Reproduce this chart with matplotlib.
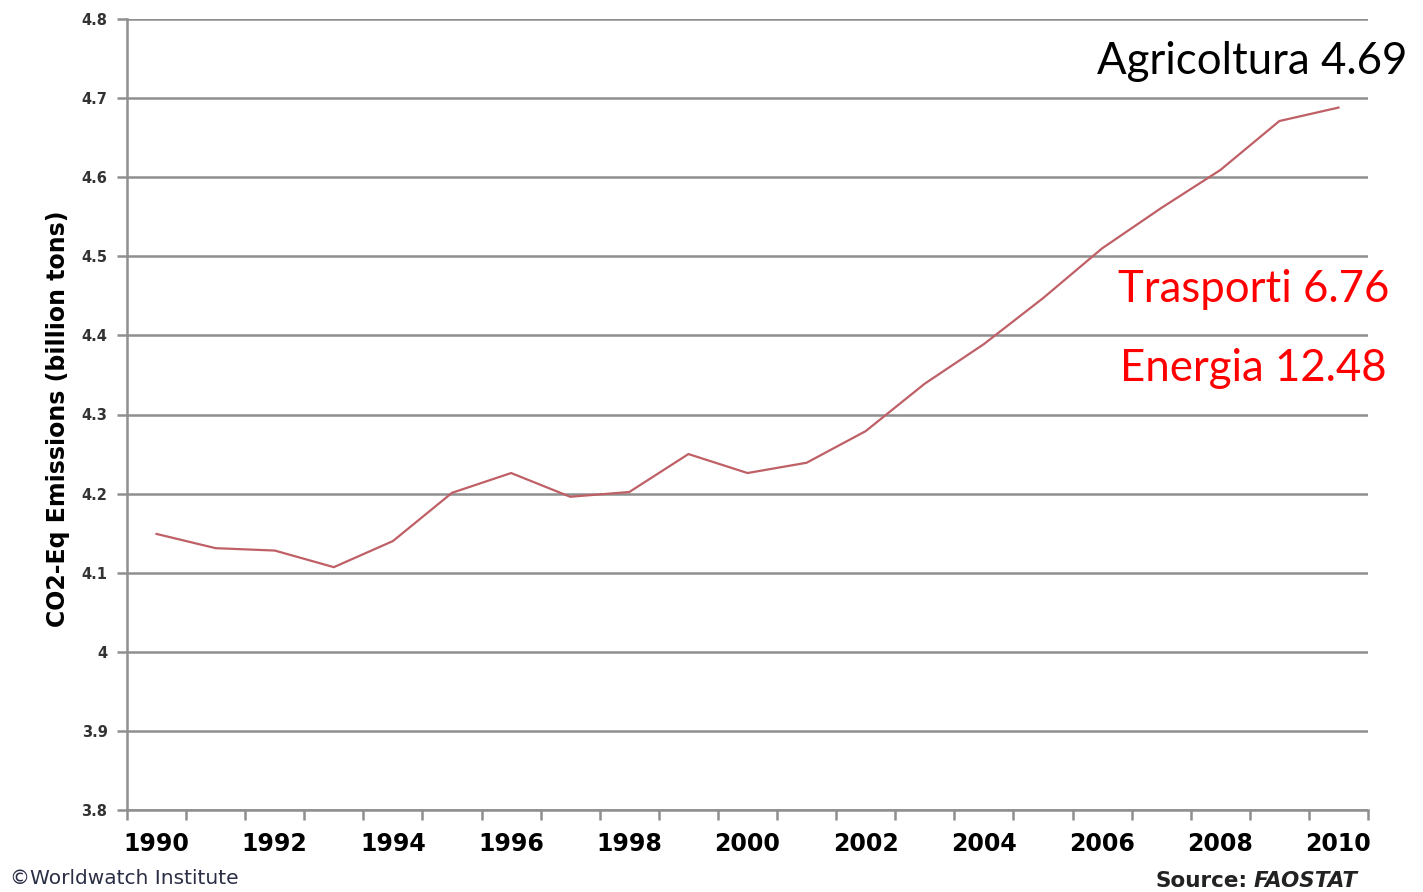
import matplotlib
matplotlib.use("Agg")
import matplotlib.pyplot as plt
import numpy as np

years = list(range(1990, 2011))
emissions = [4.149, 4.131, 4.128, 4.107, 4.140, 4.201, 4.226, 4.196, 4.202, 4.250,
             4.226, 4.239, 4.279, 4.339, 4.389, 4.447, 4.510, 4.561, 4.609, 4.671, 4.688]
year_labels = [str(y) if (y % 2 == 0) else "" for y in years]
yticks = [3.8, 3.9, 4.0, 4.1, 4.2, 4.3, 4.4, 4.5, 4.6, 4.7, 4.8]
ytick_labels = ["3.8", "3.9", "4", "4.1", "4.2", "4.3", "4.4", "4.5", "4.6", "4.7", "4.8"]
notes = [("Agricoltura 4.69", "black"), ("Trasporti 6.76", "#ff0000"), ("Energia 12.48", "#ff0000")]

fig = plt.figure(figsize=(14.23, 8.92), dpi=100)
ax = fig.add_axes([127/1423, 1-810/892, (1368-127)/1423, (810-19)/892])

x = np.arange(len(years))
ax.plot(x, emissions, color="#bf5f66", lw=1.6, solid_joinstyle="miter")

ax.set_xlim(-0.5, len(years) - 0.5)
ax.set_ylim(3.8, 4.8)
ax.set_yticks(yticks)
ax.set_yticklabels(ytick_labels, fontsize=10.5, color="#333333", family="DejaVu Sans",
                   fontweight="semibold")
ax.yaxis.grid(True, color="#8f8f8f", lw=1.8)
ax.set_axisbelow(True)

ax.set_xticks(x)
ax.set_xticklabels(year_labels, fontsize=17, fontweight="bold", family="DejaVu Sans")
ax.set_xticks(np.arange(-0.5, len(years)), minor=True)
ax.tick_params(axis="x", which="major", length=0, pad=16)
ax.tick_params(axis="x", which="minor", length=7, width=1.8, color="#8f8f8f", direction="out")
ax.tick_params(axis="y", length=7, width=1.8, color="#8f8f8f", pad=7)

for s in ["top", "right"]:
    ax.spines[s].set_visible(False)
for s in ["left", "bottom"]:
    ax.spines[s].set_color("#8f8f8f")
    ax.spines[s].set_linewidth(1.8)

fig.text(58/1423, 1-419/892, "CO2-Eq Emissions (billion tons)", rotation=90,
         ha="center", va="center", fontsize=17, fontweight="bold", family="DejaVu Sans")

fig.text(1407/1423, 1-62/892, notes[0][0], ha="right", va="center", fontsize=31.5,
         color=notes[0][1], family="Lato")
fig.text(1389/1423, 1-290/892, notes[1][0], ha="right", va="center", fontsize=31.5,
         color=notes[1][1], family="Lato")
fig.text(1387/1423, 1-368/892, notes[2][0], ha="right", va="center", fontsize=31.5,
         color=notes[2][1], family="Lato")

fig.text(10/1423, 1-879/892, "©Worldwatch Institute", ha="left", va="center",
         fontsize=14.5, color="#2b2f45", family="DejaVu Sans")
fao = fig.text(1358/1423, 1-881/892, "FAOSTAT", ha="right", va="center", fontsize=15.5,
               fontweight="bold", fontstyle="italic", color="#222222", family="DejaVu Sans")
fig.canvas.draw()
bb = fao.get_window_extent()
fig.text(bb.x0 / fig.bbox.width - 6/1423, 1-881/892, "Source:", ha="right", va="center",
         fontsize=15.5, fontweight="bold", color="#222222", family="DejaVu Sans")

fig.savefig("out.png", dpi=100)
